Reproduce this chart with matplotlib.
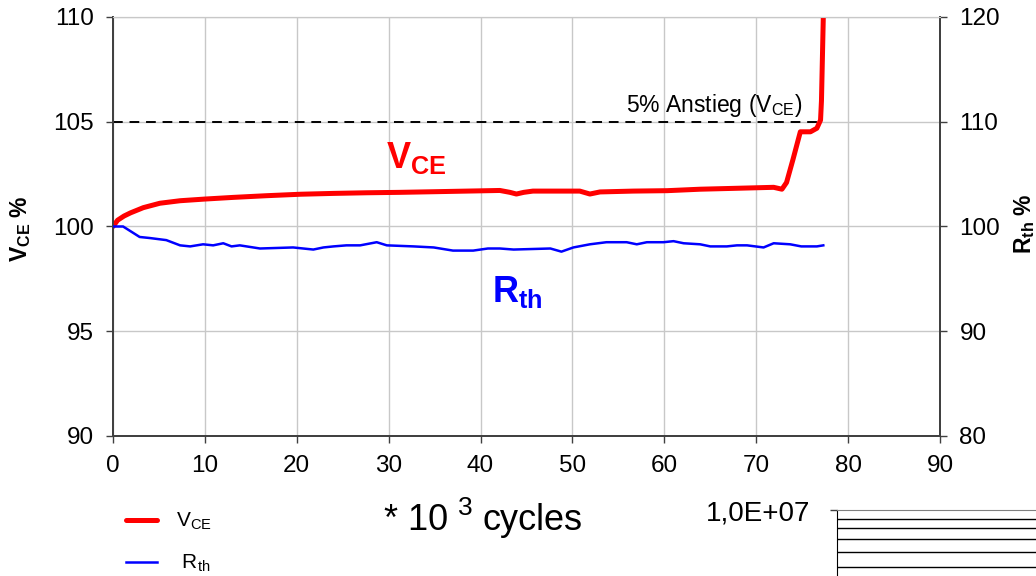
import matplotlib
matplotlib.use("Agg")
import matplotlib.pyplot as plt
from matplotlib.ticker import FixedFormatter, FixedLocator, NullFormatter, NullLocator

plt.rcParams["font.family"] = ["Liberation Sans", "DejaVu Sans"]
plt.rcParams["mathtext.fontset"] = "custom"
plt.rcParams["mathtext.rm"] = "Liberation Sans"
plt.rcParams["mathtext.bf"] = "Liberation Sans:bold"
plt.rcParams["mathtext.it"] = "Liberation Sans:italic"

# x in 10^3 cycles, V_CE in % of start value (left axis)
vce_cycles = [0, 0.5, 1.2, 1.9, 3.3, 5.1, 7.3, 10.0, 13.1, 16.7, 20.4, 24.0, 27.6,
              31.2, 34.9, 38.5, 42.1, 43.2, 43.9, 44.7, 45.7, 50.8, 51.9, 53.0,
              56.6, 60.3, 63.9, 67.5, 71.9, 72.8, 73.3, 74.0, 74.8, 75.9, 76.6,
              77.0, 77.1, 77.3, 77.4]
vce_pct = [100.0, 100.3, 100.5, 100.65, 100.9, 101.11, 101.23, 101.31, 101.39,
           101.47, 101.54, 101.58, 101.61, 101.63, 101.66, 101.69, 101.72, 101.63,
           101.55, 101.63, 101.69, 101.69, 101.55, 101.65, 101.69, 101.71, 101.78,
           101.82, 101.87, 101.78, 102.1, 103.2, 104.52, 104.52, 104.69, 105.08,
           106.0, 110.0, 114.0]

# x in 10^3 cycles, R_th in % of start value (right axis)
rth_cycles = [0, 1.1, 2.0, 2.9, 4.0, 5.8, 7.3, 8.4, 9.8, 10.9, 12.0, 12.9, 13.8,
              16.0, 19.6, 21.8, 22.9, 24.0, 25.4, 26.9, 28.7, 29.8, 32.7, 34.9,
              37.0, 39.2, 40.8, 42.1, 43.6, 47.6, 48.8, 50.1, 51.9, 53.7, 55.9,
              57.0, 58.1, 59.9, 61.0, 62.1, 63.9, 65.0, 66.8, 67.9, 69.0, 70.8,
              71.9, 73.7, 74.9, 76.6, 77.3]
rth_pct = [100.0, 100.0, 99.5, 99.0, 98.9, 98.7, 98.2, 98.1, 98.3, 98.2, 98.4,
           98.1, 98.2, 97.9, 98.0, 97.8, 98.0, 98.1, 98.2, 98.2, 98.5, 98.2, 98.1,
           98.0, 97.7, 97.7, 97.9, 97.9, 97.8, 97.9, 97.6, 98.0, 98.3, 98.5, 98.5,
           98.3, 98.5, 98.5, 98.6, 98.4, 98.3, 98.1, 98.1, 98.2, 98.2, 98.0, 98.4,
           98.3, 98.1, 98.1, 98.2]

# 5 % rise limit
limit_cycles = [0, 77.0]
limit_pct = [105, 105]

x_ticks = list(range(0, 91, 10))
vce_ticks = [90, 95, 100, 105, 110]
rth_ticks = [80, 90, 100, 110, 120]

# grid levels of the cut-off chart below
mini_top = 1e7
mini_levels = [5e6, 6e6, 7e6, 8e6, 9e6]

W, H = 1036, 576
RED = "#ff0000"
BLUE = "#0000ff"
SPINE = "#404040"
GRID = "#c8c8c8"


def fx(px):
    return px / W


def fy(py):
    return 1 - py / H


fig = plt.figure(figsize=(W / 100, H / 100), dpi=100)
ax = fig.add_axes([fx(113), fy(436), 827 / W, 419 / H])
ax2 = ax.twinx()

ax.set_xlim(0, 90)
ax.set_ylim(90, 110)
ax2.set_ylim(80, 120)
ax.set_xticks(x_ticks)
ax.set_yticks(vce_ticks)
ax2.set_yticks(rth_ticks)
ax.grid(True, color=GRID, lw=1)
ax.set_axisbelow(True)

tick_kw = dict(labelsize=17.5, length=5, width=1, color=SPINE, pad=9, direction="out")
ax.tick_params(axis="both", **tick_kw)
ax2.tick_params(axis="y", **tick_kw)

for a in (ax, ax2):
    for side in ("left", "right", "bottom"):
        a.spines[side].set_color(SPINE)
        a.spines[side].set_linewidth(1.3)
    a.spines["top"].set_color(GRID)

ax.plot(limit_cycles, limit_pct, color="black", lw=1.4, ls=(0, (5, 3.5)))
line_v, = ax.plot(vce_cycles, vce_pct, color=RED, lw=3.6, solid_capstyle="round",
                  solid_joinstyle="round", zorder=4)
line_r, = ax2.plot(rth_cycles, rth_pct, color=BLUE, lw=1.8, solid_joinstyle="round",
                   zorder=3)

ax.text(75.0, 105.47, r"5% Anstieg (V$_{\rm CE}$)", fontsize=16.5, ha="right",
        va="baseline")
ax.text(29.7, 102.79, r"$\mathbf{V}_{\mathbf{CE}}$", fontsize=26, color=RED,
        ha="left", va="baseline")
ax.text(41.2, 96.4, r"$\mathbf{R}_{\mathbf{th}}$", fontsize=26, color=BLUE,
        ha="left", va="baseline")

fig.text(fx(21), fy(229), r"$\mathbf{V}_{\mathbf{CE}}$ %", fontsize=16.5,
         fontweight="bold", rotation=90, ha="center", va="center")
fig.text(fx(1025), fy(224), r"$\mathbf{R}_{\mathbf{th}}$ %", fontsize=16.5,
         fontweight="bold", rotation=90, ha="center", va="center")

fig.text(fx(384), fy(530), "* 10", fontsize=26, ha="left", va="baseline")
fig.text(fx(458), fy(515), "3", fontsize=19, ha="left", va="baseline")
fig.text(fx(483), fy(530), "cycles", fontsize=26, ha="left", va="baseline")

fig.legend([line_v, line_r], [r"V$_{\rm CE}$", r" R$_{\rm th}$"],
           loc="upper left", bbox_to_anchor=(fx(126), fy(511)), frameon=False,
           fontsize=15, handlelength=1.5, handletextpad=0.9, labelspacing=1.0,
           borderpad=0, borderaxespad=0)

# start of the next chart, cut off at the page edge
ax3 = fig.add_axes([fx(837), 0, 0.3, 66 / H])
ax3.set_yscale("log")
ax3.set_ylim(4.46e6, mini_top)
ax3.set_xlim(0, 1)
ax3.xaxis.set_major_locator(NullLocator())
ax3.xaxis.set_minor_locator(NullLocator())
ax3.yaxis.set_major_locator(FixedLocator([mini_top]))
ax3.yaxis.set_major_formatter(FixedFormatter(["1,0E+07"]))
ax3.yaxis.set_minor_locator(FixedLocator(mini_levels))
ax3.yaxis.set_minor_formatter(NullFormatter())
ax3.tick_params(axis="y", which="major", labelsize=20, length=5, width=1,
                color=SPINE, pad=14)
ax3.tick_params(axis="y", which="minor", length=0)
ax3.grid(True, which="minor", axis="y", color="black", lw=1)
ax3.spines["right"].set_visible(False)
ax3.spines["bottom"].set_visible(False)
ax3.spines["top"].set_color("#808080")
ax3.spines["left"].set_color("black")

fig.savefig("out.png", dpi=100)
